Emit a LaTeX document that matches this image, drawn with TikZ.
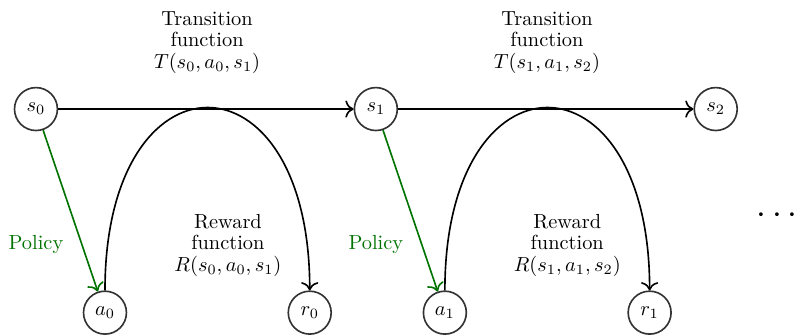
\documentclass[tikz,border=0pt]{standalone}
\usepackage{amsmath, amssymb}
\usetikzlibrary{arrows.meta, calc}
\tikzset{
    every node/.style={transform shape},
    statenode/.style={circle, draw=black!80, thick, minimum size=0.74cm,
        inner sep=0pt},
    flowarrow/.style={-{To[scale=1.2]}, thick},
    policyarrow/.style={-{To[scale=1.2]}, thick, green!45!black},
    funclabel/.style={align=center},
}

\begin{document}
\begin{tikzpicture}
    \useasboundingbox (0, 0) rectangle (13.81, 5.76);
    % states along the top
    \node[statenode] (s0) at (0.62, 3.88) {$ s_0 $};
    \node[statenode] (s1) at (6.48, 3.88) {$ s_1 $};
    \node[statenode] (s2) at (12.34, 3.88) {$ s_2 $};
    % actions and rewards
    \node[statenode] (a0) at (1.81, 0.37) {$ a_0 $};
    \node[statenode] (r0) at (5.34, 0.37) {$ r_0 $};
    \node[statenode] (a1) at (7.67, 0.37) {$ a_1 $};
    \node[statenode] (r1) at (11.20, 0.37) {$ r_1 $};
    \draw[flowarrow] (s0) -- (s1);
    \draw[flowarrow] (s1) -- (s2);
    \draw[policyarrow] (s0) -- (a0);
    \draw[policyarrow] (s1) -- (a1);
    \draw[flowarrow] (a0.north) to[out=90, in=90, looseness=3.05]
        (r0.north);
    \draw[flowarrow] (a1.north) to[out=90, in=90, looseness=3.05]
        (r1.north);
    \node[funclabel] (t0) at (3.57, 5.03)
        {Transition\\[-1.5pt] function\\[-1.5pt] $ T(s_0, a_0, s_1) $};
    \node[funclabel] (t1) at (9.43, 5.03)
        {Transition\\[-1.5pt] function\\[-1.5pt] $ T(s_1, a_1, s_2) $};
    \node[funclabel] (f0) at (3.93, 1.53)
        {Reward\\[-1.5pt] function\\[-1.5pt] $ R(s_0, a_0, s_1) $};
    \node[funclabel] (f1) at (9.78, 1.53)
        {Reward\\[-1.5pt] function\\[-1.5pt] $ R(s_1, a_1, s_2) $};
    \node[green!45!black] (p0) at (0.62, 1.55) {Policy};
    \node[green!45!black] (p1) at (6.48, 1.55) {Policy};
    \node (more) at (13.45, 2.05) {\LARGE $ \cdots $};
\end{tikzpicture}
\end{document}
